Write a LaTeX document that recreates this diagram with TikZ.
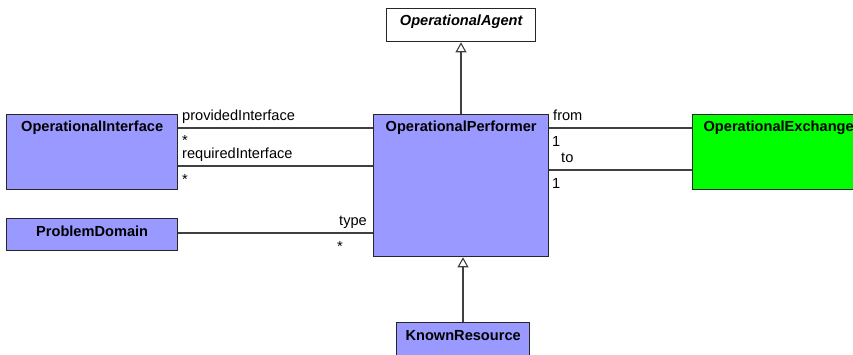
\documentclass[tikz,border=0pt]{standalone}
\usepackage{fontspec}
\setmainfont{Liberation Sans}
\usetikzlibrary{arrows.meta}
\definecolor{clsblue}{HTML}{9999FF}
\definecolor{clsgreen}{HTML}{00FF00}
\begin{document}
\begin{tikzpicture}[x=1pt,y=-1pt,
  cls/.style={draw=black!85, line width=1.3pt, inner sep=0pt, anchor=north west},
  title/.style={font=\fontsize{14.6}{16}\selectfont\bfseries, anchor=base, inner sep=0pt},
  lab/.style={font=\fontsize{14.6}{16}\selectfont, anchor=base west, inner sep=0pt},
  assoc/.style={draw=black!75, line width=1.1pt},
  gen/.style={draw=black!75, line width=1.1pt, -{Triangle[open,width=11pt,length=10pt,fill=white]}}]
\useasboundingbox (0,0) rectangle (853,354);
\clip (0,0) rectangle (853,354);
% boxes
\node[cls, fill=white, minimum width=149pt, minimum height=33pt] (ag) at (386,8) {};
\node[cls, fill=clsblue, minimum width=175pt, minimum height=142pt] (op) at (373,114) {};
\node[cls, fill=clsblue, minimum width=171pt, minimum height=75pt] (oi) at (6,114) {};
\node[cls, fill=clsblue, minimum width=171pt, minimum height=32pt] (pd) at (6,218) {};
\node[cls, fill=clsgreen, minimum width=172pt, minimum height=75pt] (oe) at (692,114) {};
\node[cls, fill=clsblue, minimum width=133pt, minimum height=40pt] (kr) at (396,322) {};
% titles
\node[title] (tag) at ([yshift=-17pt]ag.north) {\itshape OperationalAgent};
\node[title] (top) at ([yshift=-17pt]op.north) {OperationalPerformer};
\node[title] (toi) at ([yshift=-17pt]oi.north) {OperationalInterface};
\node[title] (tpd) at ([yshift=-18pt]pd.north) {ProblemDomain};
\node[title] (toe) at ([yshift=-17pt]oe.north) {OperationalExchange};
\node[title] (tkr) at ([yshift=-18pt]kr.north) {KnownResource};
% associations
\draw[assoc] (oi.east |- 0,128) -- (op.west |- 0,128);
\draw[assoc] (oi.east |- 0,166) -- (op.west |- 0,166);
\draw[assoc] (pd.east |- 0,233) -- (op.west |- 0,233);
\draw[assoc] (op.east |- 0,128) -- (oe.west |- 0,128);
\draw[assoc] (op.east |- 0,170) -- (oe.west |- 0,170);
% generalizations
\draw[gen] (op.north -| 461,0) -- (ag.south -| 461,0);
\draw[gen] (kr.north -| 463,0) -- (op.south -| 463,0);
% labels
\node[lab] (l1) at (182,120) {providedInterface};
\node[lab] (l2) at (182,145) {*};
\node[lab] (l3) at (182,158) {requiredInterface};
\node[lab] (l4) at (182,184) {*};
\node[lab] (l5) at (339,225) {type};
\node[lab] (l6) at (337,251) {*};
\node[lab] (l7) at (553,120) {from};
\node[lab] (l8) at (552,146) {1};
\node[lab] (l9) at (561,162) {to};
\node[lab] (l10) at (552,188) {1};
\end{tikzpicture}
\end{document}
